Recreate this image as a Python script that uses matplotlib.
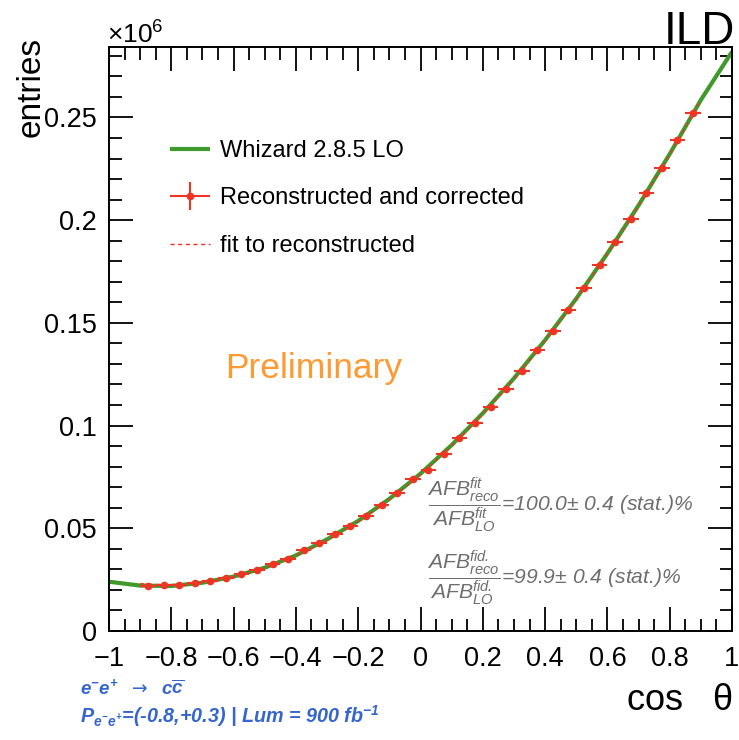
import numpy as np
import matplotlib
matplotlib.use("Agg")
import matplotlib.pyplot as plt
from matplotlib.ticker import MultipleLocator, FuncFormatter
from matplotlib.legend_handler import HandlerErrorbar

plt.rcParams['font.family'] = ['Liberation Sans', 'DejaVu Sans']
plt.rcParams['mathtext.default'] = 'regular'

# reconstructed and corrected distribution (bins of width 0.05, entries in units of 1e6)
cos_theta = [-0.875, -0.825, -0.775, -0.725, -0.675, -0.625, -0.575, -0.525,
             -0.475, -0.425, -0.375, -0.325, -0.275, -0.225, -0.175, -0.125,
             -0.075, -0.025, 0.025, 0.075, 0.125, 0.175, 0.225, 0.275,
             0.325, 0.375, 0.425, 0.475, 0.525, 0.575, 0.625, 0.675,
             0.725, 0.775, 0.825, 0.875]
entries_reco = [0.0219, 0.0222, 0.0224, 0.0234, 0.0245, 0.0258, 0.0277, 0.0297,
                0.0324, 0.0352, 0.0392, 0.0430, 0.0472, 0.0511, 0.0560, 0.0613,
                0.0672, 0.0740, 0.0784, 0.0862, 0.0938, 0.1013, 0.1090, 0.1180,
                0.1266, 0.1368, 0.1460, 0.1563, 0.1670, 0.1780, 0.1894, 0.2006,
                0.2132, 0.2254, 0.2390, 0.2522]
entries_err = [0.0015] * len(cos_theta)
bin_half_width = 0.025

# Whizard 2.8.5 LO prediction
cos_theta_lo = [-1.0, -0.9, -0.8, -0.7, -0.6, -0.5, -0.4, -0.3, -0.2, -0.1, 0.0,
                0.1, 0.2, 0.3, 0.4, 0.5, 0.6, 0.7, 0.8, 0.9, 1.0]
entries_lo = [0.0240, 0.0221, 0.0219, 0.0235, 0.0265, 0.0308, 0.0368, 0.0446,
              0.0536, 0.0643, 0.0766, 0.0905, 0.1060, 0.1230, 0.1416, 0.1618,
              0.1838, 0.2072, 0.2322, 0.2585, 0.2820]

green = '#3f9a2c'
red = '#ee3524'
gray = '#6e6e6e'
blue = '#3566cf'
orange = '#ff9a33'

fig = plt.figure(figsize=(7.39, 7.40), dpi=100)
ax = fig.add_axes([109 / 739, 1 - 631 / 740, (732 - 109) / 739, (631 - 47) / 740])

line_lo, = ax.plot(cos_theta_lo, entries_lo, color=green, lw=3.0, zorder=2,
                   solid_capstyle='butt')

# quadratic fit to the reconstructed points
coef = np.polyfit(cos_theta, entries_reco, 2)
xf = np.linspace(-0.9, 0.9, 200)
line_fit, = ax.plot(xf, np.polyval(coef, xf), color=red, lw=1.0, ls=(0, (3, 2.5)),
                    zorder=3)

eb = ax.errorbar(cos_theta, entries_reco, xerr=bin_half_width, yerr=entries_err,
                 fmt='o', color=red, ms=4.5, elinewidth=1.5, capsize=0, zorder=4)

ax.set_xlim(-1, 1)
ax.set_ylim(0, 0.2843)

ax.xaxis.set_major_locator(MultipleLocator(0.2))
ax.xaxis.set_minor_locator(MultipleLocator(0.05))
ax.yaxis.set_major_locator(MultipleLocator(0.05))
ax.yaxis.set_minor_locator(MultipleLocator(0.01))


def fmt(v, pos):
    v = round(v, 6) + 0.0
    return f'{v:g}'.replace('-', '\u2212')


ax.xaxis.set_major_formatter(FuncFormatter(fmt))
ax.yaxis.set_major_formatter(FuncFormatter(fmt))
ax.tick_params(which='both', direction='in', top=True, right=True, width=1.3,
               labelsize=19.5, color='black')
ax.tick_params(which='major', length=17)
ax.tick_params(which='minor', length=9)
ax.tick_params(axis='x', which='major', pad=11)
ax.tick_params(axis='y', which='major', pad=9)
for s in ax.spines.values():
    s.set_linewidth(1.4)

leg = ax.legend([line_lo, eb, line_fit],
                ['Whizard 2.8.5 LO', 'Reconstructed and corrected', 'fit to reconstructed'],
                loc='upper left', bbox_to_anchor=(0.083, 0.857), frameon=False,
                fontsize=17, handlelength=1.7, handletextpad=0.42,
                labelspacing=1.08, borderaxespad=0,
                handler_map={eb: HandlerErrorbar(xerr_size=0.85, yerr_size=0.6)})

ax.text(0.329, 0.449, 'Preliminary', transform=ax.transAxes, color=orange,
        fontsize=25.5, ha='center', va='center')

ax.text(0.51, 0.216,
        r'$\dfrac{AFB^{fit}_{reco}}{AFB^{fit}_{LO}}$=100.0$\pm$ 0.4 (stat.)%',
        transform=ax.transAxes, color=gray, fontsize=15.2, style='italic',
        ha='left', va='center')
ax.text(0.51, 0.091,
        r'$\dfrac{AFB^{fid.}_{reco}}{AFB^{fid.}_{LO}}$=99.9$\pm$ 0.4 (stat.)%',
        transform=ax.transAxes, color=gray, fontsize=15.2, style='italic',
        ha='left', va='center')

fig.text(31 / 739, 1 - 37 / 740, 'entries', rotation=90, fontsize=24,
         ha='center', va='top')
fig.text(733 / 739, 1 - 710 / 740, r'cos   $\theta$', fontsize=26,
         ha='right', va='baseline')
fig.text(107 / 739, 1 - 44 / 740, r'$\times$10$^{6}$', fontsize=19,
         ha='left', va='baseline')
fig.text(735 / 739, 1 - 44 / 740, 'ILD', fontsize=33, ha='right', va='baseline')

fig.text(80 / 739, 1 - 695 / 740,
         r'$e^{-}e^{+}$  $\mathrm{\rightarrow}$  $c\overline{c}$',
         color=blue, fontsize=13.5, style='italic', weight='bold',
         ha='left', va='baseline')
fig.text(80 / 739, 1 - 723 / 740,
         r'$P_{e^{-}e^{+}}$=(-0.8,+0.3) | Lum = 900 fb$^{-1}$',
         color=blue, fontsize=14.2, style='italic', weight='bold',
         ha='left', va='baseline')

fig.savefig('out.png', dpi=100)
